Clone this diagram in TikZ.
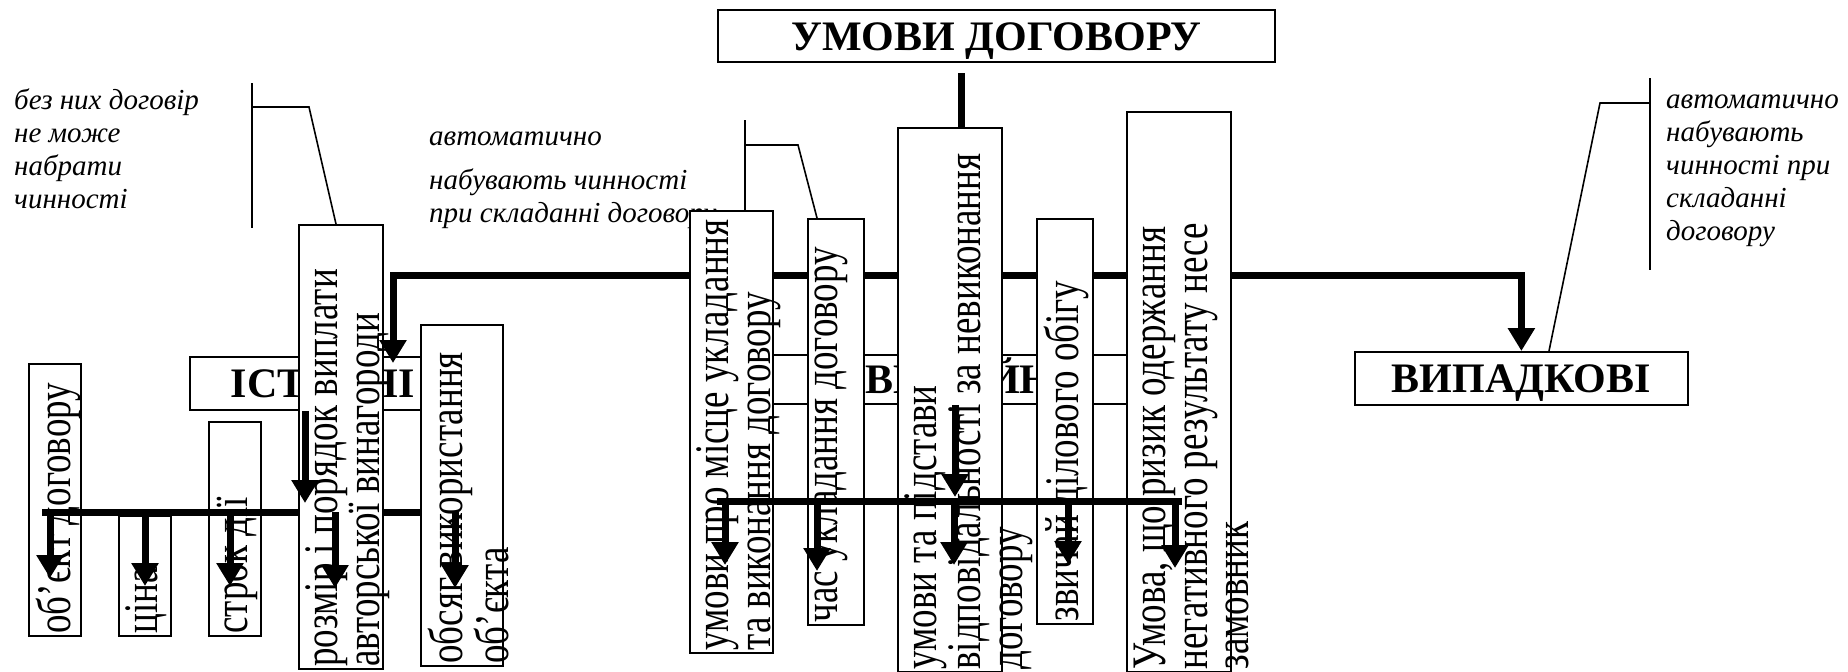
\documentclass[tikz,border=0pt]{standalone}
\usepackage{fontspec}
\setmainfont{Liberation Serif}
\usetikzlibrary{arrows.meta,calc,positioning}

\begin{document}
\begin{tikzpicture}[x=1pt, y=-1pt,
  box/.style={draw, line width=1.8pt, fill=white, inner sep=0pt, anchor=north west},
  heading/.style={font=\fontsize{42}{48}\selectfont\bfseries, text height=29pt, text depth=0pt},
  vtext/.style={rotate=90, yscale=1.3, anchor=north west, align=left,
    inner xsep=3pt, inner ysep=6pt, font=\fontsize{37}{32}\selectfont},
  remark/.style={anchor=north west, align=left, inner sep=0pt,
    font=\fontsize{29}{33}\selectfont\itshape},
  bracket/.style={line width=1.6pt},
  bus/.style={line width=7pt},
  drop/.style={line width=7pt, -{Triangle[length=23pt 0 1,width=26pt 0 1]}}]
  \useasboundingbox (0,0) rectangle (1848,672);
  \clip (0,0) rectangle (1848,672);

  % remarks and their brackets
  \node[remark] (r1) at (14,86) {\strut без них договір\\не може\\набрати\\чинності};
  \node[remark] (r2) at (429,122) {\strut автоматично\\[11pt]набувають чинності\\при складанні договору};
  \node[remark] (r3) at (1666,85) {\strut автоматично\\набувають\\чинності при\\складанні\\договору};
  \coordinate (b1top) at (252,83);
  \coordinate (b1knee) at (309,107);
  \coordinate (b1foot) at (336,0);
  \coordinate (b2top) at (745,120);
  \coordinate (b2knee) at (798,145);
  \coordinate (b2foot) at (817,0);
  \coordinate (b3top) at (1650,78);
  \coordinate (b3knee) at (1600,103);
  \coordinate (b3foot) at (1549,0);
  \draw[bracket] (b1top) -- ++(0,145);
  \draw[bracket] (b3top) -- ++(0,192);

  % essential terms
  \node[box, heading, minimum width=266pt, minimum height=53pt] (ist) at (189,356) {ІСТОТНІ};
  \node[box, minimum width=52pt, minimum height=272pt] (obj) at (28,363) {};
  \node[vtext] (objT) at (obj.south west) {об’єкт договору};
  \node[box, minimum width=52pt, minimum height=120pt] (cina) at (118,515) {};
  \node[vtext] (cinaT) at (cina.south west) {ціна};
  \node[box, minimum width=52pt, minimum height=214pt] (strok) at (208,421) {};
  \node[vtext] (strokT) at (strok.south west) {строк дії};
  \coordinate (lbusL) at (42,512);
  \coordinate (lbusR) at (455,512);
  \draw[bus] (lbusL) -- (lbusR);
  \node[box, minimum width=84pt, minimum height=444pt] (rozm) at (298,224) {};
  \node[vtext] (rozmT) at (rozm.south west) {розмір і порядок виплати\\авторської винагороди};
  \node[box, minimum width=82pt, minimum height=341pt] (obs) at (420,324) {};
  \node[vtext] (obsT) at (obs.south west) {обсяг використання\\об’єкта};
  \draw[bracket] (b1top |- b1knee) -- (b1knee) -- (b1foot |- rozm.north);
  \foreach \b/\x/\y in {obj/50/578, cina/145/586, strok/230/586, rozm/335/588, obs/455/588} {
    \coordinate (\b tip) at (\x,\y);
    \draw[drop] (\b tip |- lbusL) -- (\b tip);
  }
  \coordinate (istout) at (305,503);
  \draw[drop] (istout |- ist.south) -- (istout);

  % casual terms
  \node[box, heading, minimum width=333pt, minimum height=53pt] (vyp) at (1354,351) {ВИПАДКОВІ};
  \draw[bracket] (b3top |- b3knee) -- (b3knee) -- (b3foot |- vyp.north);

  % main bus from the title
  \coordinate (istin) at (393,363);
  \coordinate (mainbus) at (0,275);
  \draw[bus, {Triangle[length=23pt 0 1,width=26pt 0 1]}-{Triangle[length=23pt 0 1,width=26pt 0 1]}]
    (istin) -- (istin |- mainbus) -- (vyp.north |- mainbus) -- (vyp.north);

  % usual terms
  \node[box, heading, minimum width=460pt, minimum height=49pt] (zv) at (725,354) {ЗВИЧАЙНІ};
  \node[box, heading, minimum width=557pt, minimum height=52pt] (title) at (717,9) {УМОВИ ДОГОВОРУ};
  \coordinate (topleg) at (961,73);
  \draw[bracket] (b2top) -- ++(0,90);
  \draw[bracket] (b2top |- b2knee) -- (b2knee) -- (b2foot |- 0,218);
  \node[box, minimum width=83pt, minimum height=442pt] (m1) at (689,210) {};
  \node[vtext] (m1T) at (m1.south west) {умови про місце укладання\\та виконання договору};
  \node[box, minimum width=56pt, minimum height=406pt] (m2) at (807,218) {};
  \node[vtext] (m2T) at (m2.south west) {час укладання договору};
  \node[box, minimum width=104pt, minimum height=544pt] (m3) at (897,127) {};
  \node[vtext] (m3T) at (m3.south west) {умови та підстави\\відповідальності за невиконання\\договору};
  \node[box, minimum width=56pt, minimum height=405pt] (m4) at (1036,218) {};
  \node[vtext] (m4T) at (m4.south west) {звичай ділового обігу};
  \node[box, minimum width=104pt, minimum height=560pt] (m5) at (1126,111) {};
  \node[vtext] (m5T) at (m5.south west) {Умова, що ризик одержання\\негативного результату несе\\замовник};
  \draw[bus] (topleg) -- (topleg |- m3.north);
  \coordinate (mbusL) at (717,501);
  \coordinate (mbusR) at (1182,501);
  \draw[bus] (mbusL) -- (mbusR);
  \foreach \b/\x/\y in {m1/725/565, m2/817/571, m3/954/565, m4/1068/564, m5/1175/568} {
    \coordinate (\b tip) at (\x,\y);
    \draw[drop] (\b tip |- mbusL) -- (\b tip);
  }
  \coordinate (zvout) at (955,497);
  \draw[drop] (zvout |- zv.south) -- (zvout);
\end{tikzpicture}
\end{document}
